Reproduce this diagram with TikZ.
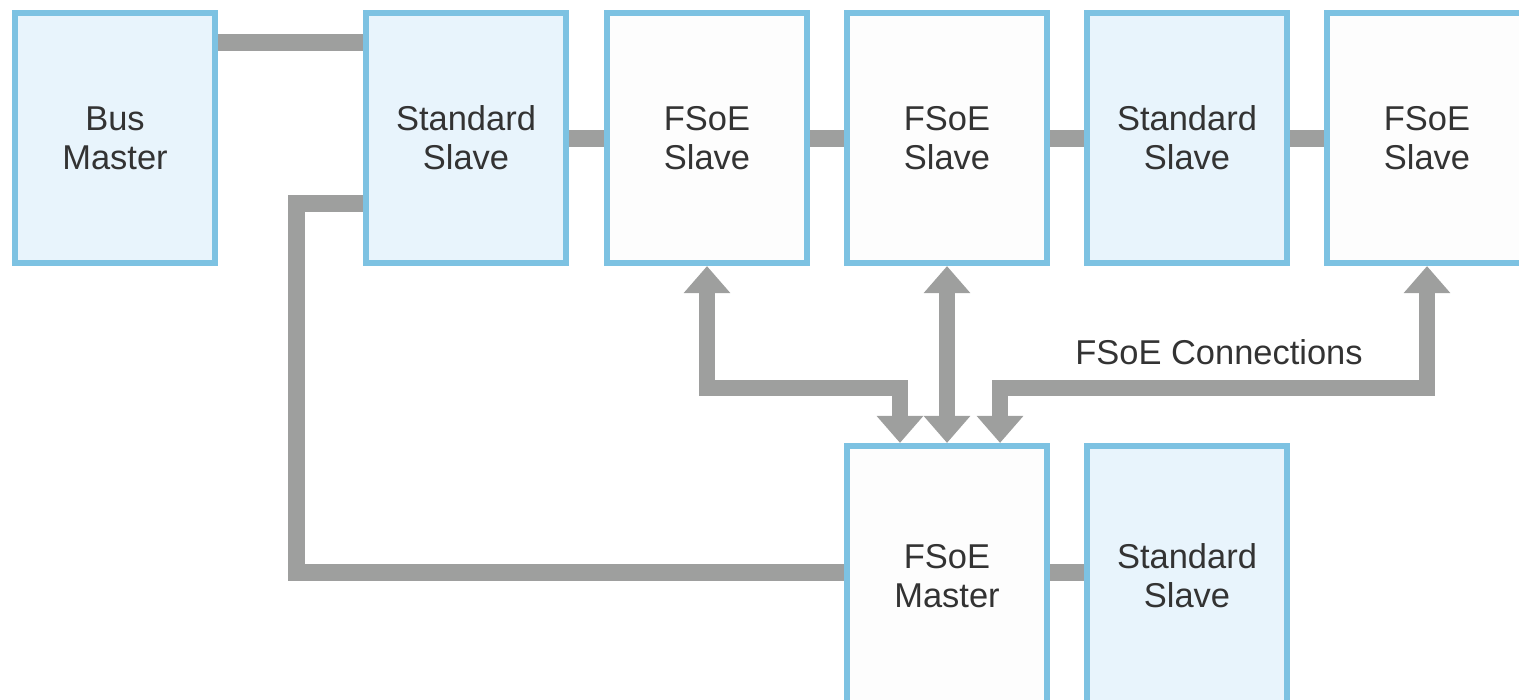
\documentclass[tikz,border=0pt]{standalone}
\usepackage{fontspec}
\setmainfont{Liberation Sans}
\usepackage{tikz}
\usetikzlibrary{arrows.meta}

\definecolor{boxline}{HTML}{7DC2E2}
\definecolor{stdfill}{HTML}{E8F4FC}
\definecolor{safefill}{HTML}{FDFDFD}
\definecolor{wire}{HTML}{9E9F9E}
\definecolor{txt}{HTML}{333333}

\tikzset{
  dev/.style={draw=boxline, line width=0.06cm, minimum width=2cm, minimum height=2.5cm,
    inner sep=0pt, align=center, text=txt, font=\fontsize{9.8}{11}\selectfont},
  std/.style={dev, fill=stdfill},
  safe/.style={dev, fill=safefill},
  low/.style={minimum height=2.6cm},
  bus/.style={draw=wire, line width=0.17cm},
  conn/.style={draw=wire, line width=0.16cm, line join=miter,
    {Triangle[width=0.45cm,length=0.27cm]}-{Triangle[width=0.45cm,length=0.27cm]}}
}

\begin{document}
\begin{tikzpicture}[x=0.01cm,y=-0.01cm]
		\useasboundingbox (0,0) rectangle (1519,699);
		\clip (0,0) rectangle (1519,699);

		\node[std](BM) at (115,138) {Bus\\Master};
		\node[std](SS1) at (466,138) {Standard\\Slave};
		\node[safe](FS1) at (707,138) {FSoE\\Slave};
		\node[safe](FS2) at (947,138) {FSoE\\Slave};
		\node[std](SS2) at (1187,138) {Standard\\Slave};
		\node[safe](FS3) at (1427,138) {FSoE\\Slave};
		\node[safe,low](FM) at (947,576) {FSoE\\Master};
		\node[std,low](SS3) at (1187,576) {Standard\\Slave};
		\coordinate(LC) at (296,572);

		\draw[bus] ([yshift=-0.33cm]BM.north east) -- ([yshift=-0.33cm]SS1.north west);
		\draw[bus] (SS1) -- (FS1);
		\draw[bus] (FS1) -- (FS2);
		\draw[bus] (FS2) -- (SS2);
		\draw[bus] (SS2) -- (FS3);
		\draw[bus] ([yshift=0.04cm]FM.east) -- ([yshift=0.04cm]SS3.west);
		\draw[bus, line join=miter] ([yshift=-0.65cm]SS1.west) -| (LC) -- (LC -| FM.west);

		\draw[conn] (FS1.south) -- ++(0,122) -| ([xshift=-0.47cm]FM.north);
		\draw[conn] (FS2.south) -- (FM.north);
		\draw[conn] (FS3.south) -- ++(0,122) -| ([xshift=0.53cm]FM.north);
		\node[text=txt, font=\fontsize{9.8}{11}\selectfont](FC) at (1219,352) {FSoE Connections};
	\end{tikzpicture}
\end{document}
